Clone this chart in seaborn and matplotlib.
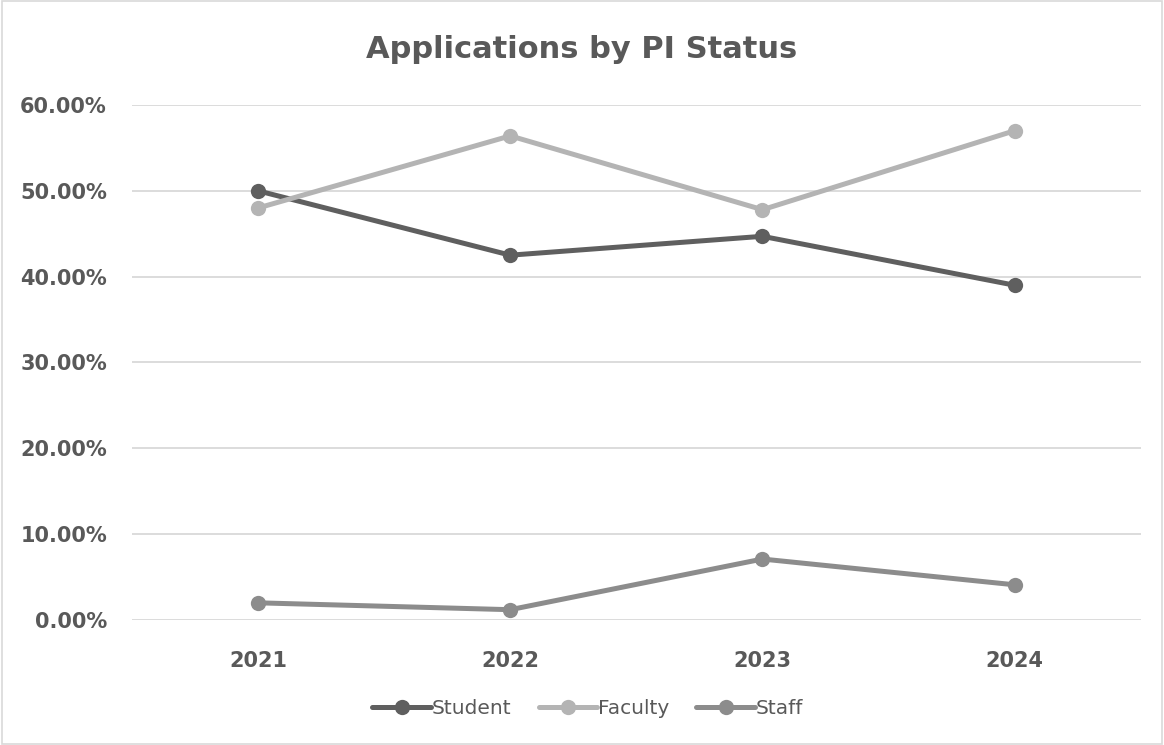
import numpy as np
import pandas as pd
import matplotlib
matplotlib.use("Agg")
import matplotlib.pyplot as plt
import seaborn as sns
from matplotlib.ticker import PercentFormatter
from matplotlib.patches import Rectangle

years = ["2021", "2022", "2023", "2024"]
student = [0.500, 0.425, 0.447, 0.390]
faculty = [0.480, 0.564, 0.478, 0.570]
staff = [0.020, 0.012, 0.071, 0.041]
series_names = ["Student", "Faculty", "Staff"]

colors = {"Student": "#5f5f5f", "Faculty": "#b4b4b4", "Staff": "#8c8c8c"}
text_color = "#595959"

df = pd.DataFrame({
    "Year": years * 3,
    "Share": student + faculty + staff,
    "Status": np.repeat(series_names, len(years)),
})

sns.set_theme(style="white")
plt.rcParams["font.family"] = ["DejaVu Sans"]

fig = plt.figure(figsize=(11.64, 7.45), dpi=100)
ax = fig.add_axes([0.1134, 0.1678, 0.8666, 0.6913])

sns.lineplot(
    data=df, x="Year", y="Share", hue="Status", palette=colors,
    marker="o", markersize=11, markeredgewidth=0, linewidth=3.6,
    sort=False, ax=ax,
)

ax.set_ylim(0, 0.6)
ax.set_xlim(-0.5, 3.5)
ax.set_yticks(np.arange(0, 0.61, 0.1))
ax.yaxis.set_major_formatter(PercentFormatter(1.0, decimals=2))
ax.grid(True, axis="y", color="#d9d9d9", linewidth=1.3)
ax.set_axisbelow(True)
for s in ax.spines.values():
    s.set_visible(False)
ax.tick_params(length=0, labelsize=15, labelcolor=text_color)
ax.tick_params(axis="x", pad=22)
ax.tick_params(axis="y", pad=18)
for lab in ax.get_xticklabels() + ax.get_yticklabels():
    lab.set_fontweight("bold")
ax.set_xlabel("")
ax.set_ylabel("")

fig.text(0.5, 0.933, "Applications by PI Status", ha="center", va="center",
         fontsize=22, fontweight="bold", color=text_color)

handles, labels = ax.get_legend_handles_labels()
ax.legend(handles, labels, loc="center", bbox_to_anchor=(0.505, 0.049),
          bbox_transform=fig.transFigure, ncol=3, frameon=False,
          fontsize=14.5, handlelength=2.9, handletextpad=0.05, columnspacing=1.35,
          labelcolor=text_color)

fig.add_artist(Rectangle((0.002, 0.002), 0.996, 0.996, transform=fig.transFigure,
                         fill=False, edgecolor="#d9d9d9", linewidth=1.2))

fig.savefig("out.png", dpi=100)
